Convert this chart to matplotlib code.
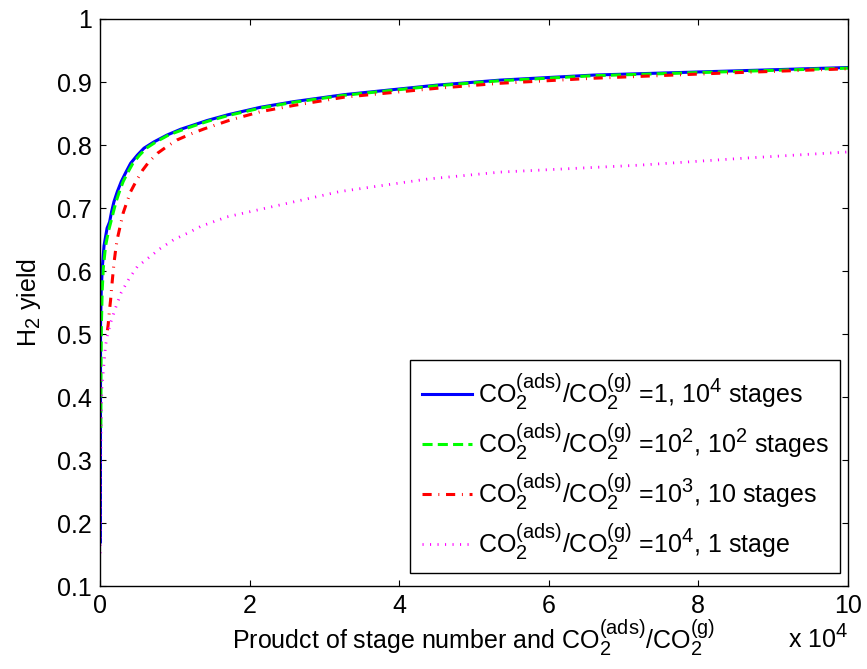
import matplotlib
matplotlib.use("Agg")
import matplotlib.pyplot as plt
import matplotlib._mathtext as mathtext_core

plt.rcParams['font.family'] = ['Liberation Sans', 'DejaVu Sans']
plt.rcParams['mathtext.fontset'] = 'custom'
plt.rcParams['mathtext.rm'] = 'Liberation Sans'
plt.rcParams['mathtext.it'] = 'Liberation Sans:italic'
plt.rcParams['mathtext.bf'] = 'Liberation Sans:bold'
# MATLAB draws sub/superscripts bigger than mathtext's default 0.7
mathtext_core.SHRINK_FACTOR = 0.8

# x in units of 10^4 (product of stage number and CO2 ads/g ratio)
blue_x = [0.006, 0.008, 0.017, 0.031, 0.054, 0.095, 0.129, 0.155, 0.187, 0.232,
          0.285, 0.343, 0.41, 0.5, 0.589, 0.723, 0.90, 1.079, 1.258, 1.436, 1.71,
          2.15, 2.6, 3.27, 4.5, 5.35, 6.6, 8.3, 10]
blue_y = [0.17, 0.515, 0.568, 0.605, 0.64, 0.668, 0.678, 0.694, 0.71, 0.726,
          0.742, 0.756, 0.771, 0.784, 0.795, 0.805, 0.816, 0.825, 0.832, 0.839, 0.848,
          0.860, 0.869, 0.880, 0.895, 0.903, 0.911, 0.917, 0.923]

green_x = [0.012, 0.014, 0.02, 0.03, 0.045, 0.075, 0.115, 0.15, 0.18, 0.215, 0.26,
           0.31, 0.37, 0.44, 0.53, 0.62, 0.75, 0.92, 1.1, 1.27, 1.45, 1.72, 2.16,
           2.6, 3.27, 4.5, 5.35, 6.6, 8.3, 10]
green_y = [0.351, 0.45, 0.52, 0.57, 0.605, 0.64, 0.664, 0.68, 0.694, 0.71, 0.726,
           0.742, 0.756, 0.771, 0.784, 0.795, 0.805, 0.816, 0.824, 0.831, 0.838, 0.847,
           0.859, 0.868, 0.879, 0.894, 0.902, 0.910, 0.916, 0.922]

red_x = [0.10, 0.11, 0.125, 0.142, 0.165, 0.187, 0.21, 0.23, 0.27, 0.31, 0.356,
         0.41, 0.49, 0.57, 0.656, 0.77, 0.90, 1.03, 1.213, 1.39, 1.75, 2.15, 2.6,
         3.27, 4.5, 5.35, 6.6, 8.3, 10]
red_y = [0.506, 0.515, 0.535, 0.554, 0.585, 0.612, 0.634, 0.65, 0.671, 0.692, 0.708,
         0.726, 0.744, 0.76, 0.7735, 0.787, 0.798, 0.808, 0.8175, 0.8255, 0.840, 0.853,
         0.863, 0.876, 0.890, 0.898, 0.906, 0.914, 0.921]

mag_x = [0.004, 0.01, 0.02, 0.027, 0.044, 0.062, 0.075, 0.098, 0.142, 0.21, 0.285,
         0.39, 0.5, 0.66, 0.81, 0.99, 1.17, 1.35, 1.7, 2.6, 3.2, 4.38, 5.35, 7.21,
         8.6, 10]
mag_y = [0.152, 0.3, 0.39, 0.417, 0.44, 0.464, 0.482, 0.497, 0.518, 0.542, 0.566,
         0.588, 0.607, 0.622, 0.636, 0.65, 0.66, 0.671, 0.686, 0.71, 0.726, 0.746,
         0.757, 0.768, 0.779, 0.789]

ratio = r'CO$_2^{\mathrm{(ads)}}$/CO$_2^{\mathrm{(g)}}$'
labels = [ratio + ' =1, 10$^4$ stages',
          ratio + ' =10$^2$, 10$^2$ stages',
          ratio + ' =10$^3$, 10 stages',
          ratio + ' =10$^4$, 1 stage']

fs = 18

fig = plt.figure(figsize=(8.67, 6.69), dpi=100)
ax = fig.add_axes([0.1153, 0.124, 0.8627, 0.8476])

ax.plot(blue_x, blue_y, color='#0000ff', lw=2.2, ls='-', label=labels[0])
ax.plot(green_x, green_y, color='#00ff00', lw=2.2, ls=(0, (3.3, 1.7)), label=labels[1])
ax.plot(red_x, red_y, color='#ff0000', lw=2.2, ls=(0, (3.0, 2.2, 0.3, 2.2)), label=labels[2])
ax.plot(mag_x, mag_y, color='#ff00ff', lw=2.0, ls=(0, (0.4, 2.3)), label=labels[3])

ax.set_xlim(0, 10)
ax.set_ylim(0.1, 1)
ax.set_xticks(range(0, 11, 2))
ax.set_yticks([0.1, 0.2, 0.3, 0.4, 0.5, 0.6, 0.7, 0.8, 0.9, 1.0])
ax.set_yticklabels(['0.1', '0.2', '0.3', '0.4', '0.5', '0.6', '0.7', '0.8', '0.9', '1'])
ax.tick_params(direction='in', length=4.5, width=0.8, top=True, right=True,
               labelsize=fs, pad=6)
for s in ax.spines.values():
    s.set_linewidth(1.0)

ax.set_xlabel('Proudct of stage number and ' + ratio, fontsize=fs, labelpad=-1)
ax.set_ylabel('H$_2$ yield', fontsize=fs, labelpad=10)
fig.text(0.978, 0.031, r'x 10$^4$', ha='right', va='baseline', fontsize=fs)

leg = ax.legend(loc='lower right', bbox_to_anchor=(0.9893, 0.0229), borderaxespad=0,
                fontsize=fs, fancybox=False, framealpha=1, edgecolor='black',
                handlelength=2.0, handletextpad=0.25, labelspacing=0.37,
                borderpad=0.45)
leg.get_frame().set_linewidth(1.0)

fig.savefig('out.png', dpi=100)
